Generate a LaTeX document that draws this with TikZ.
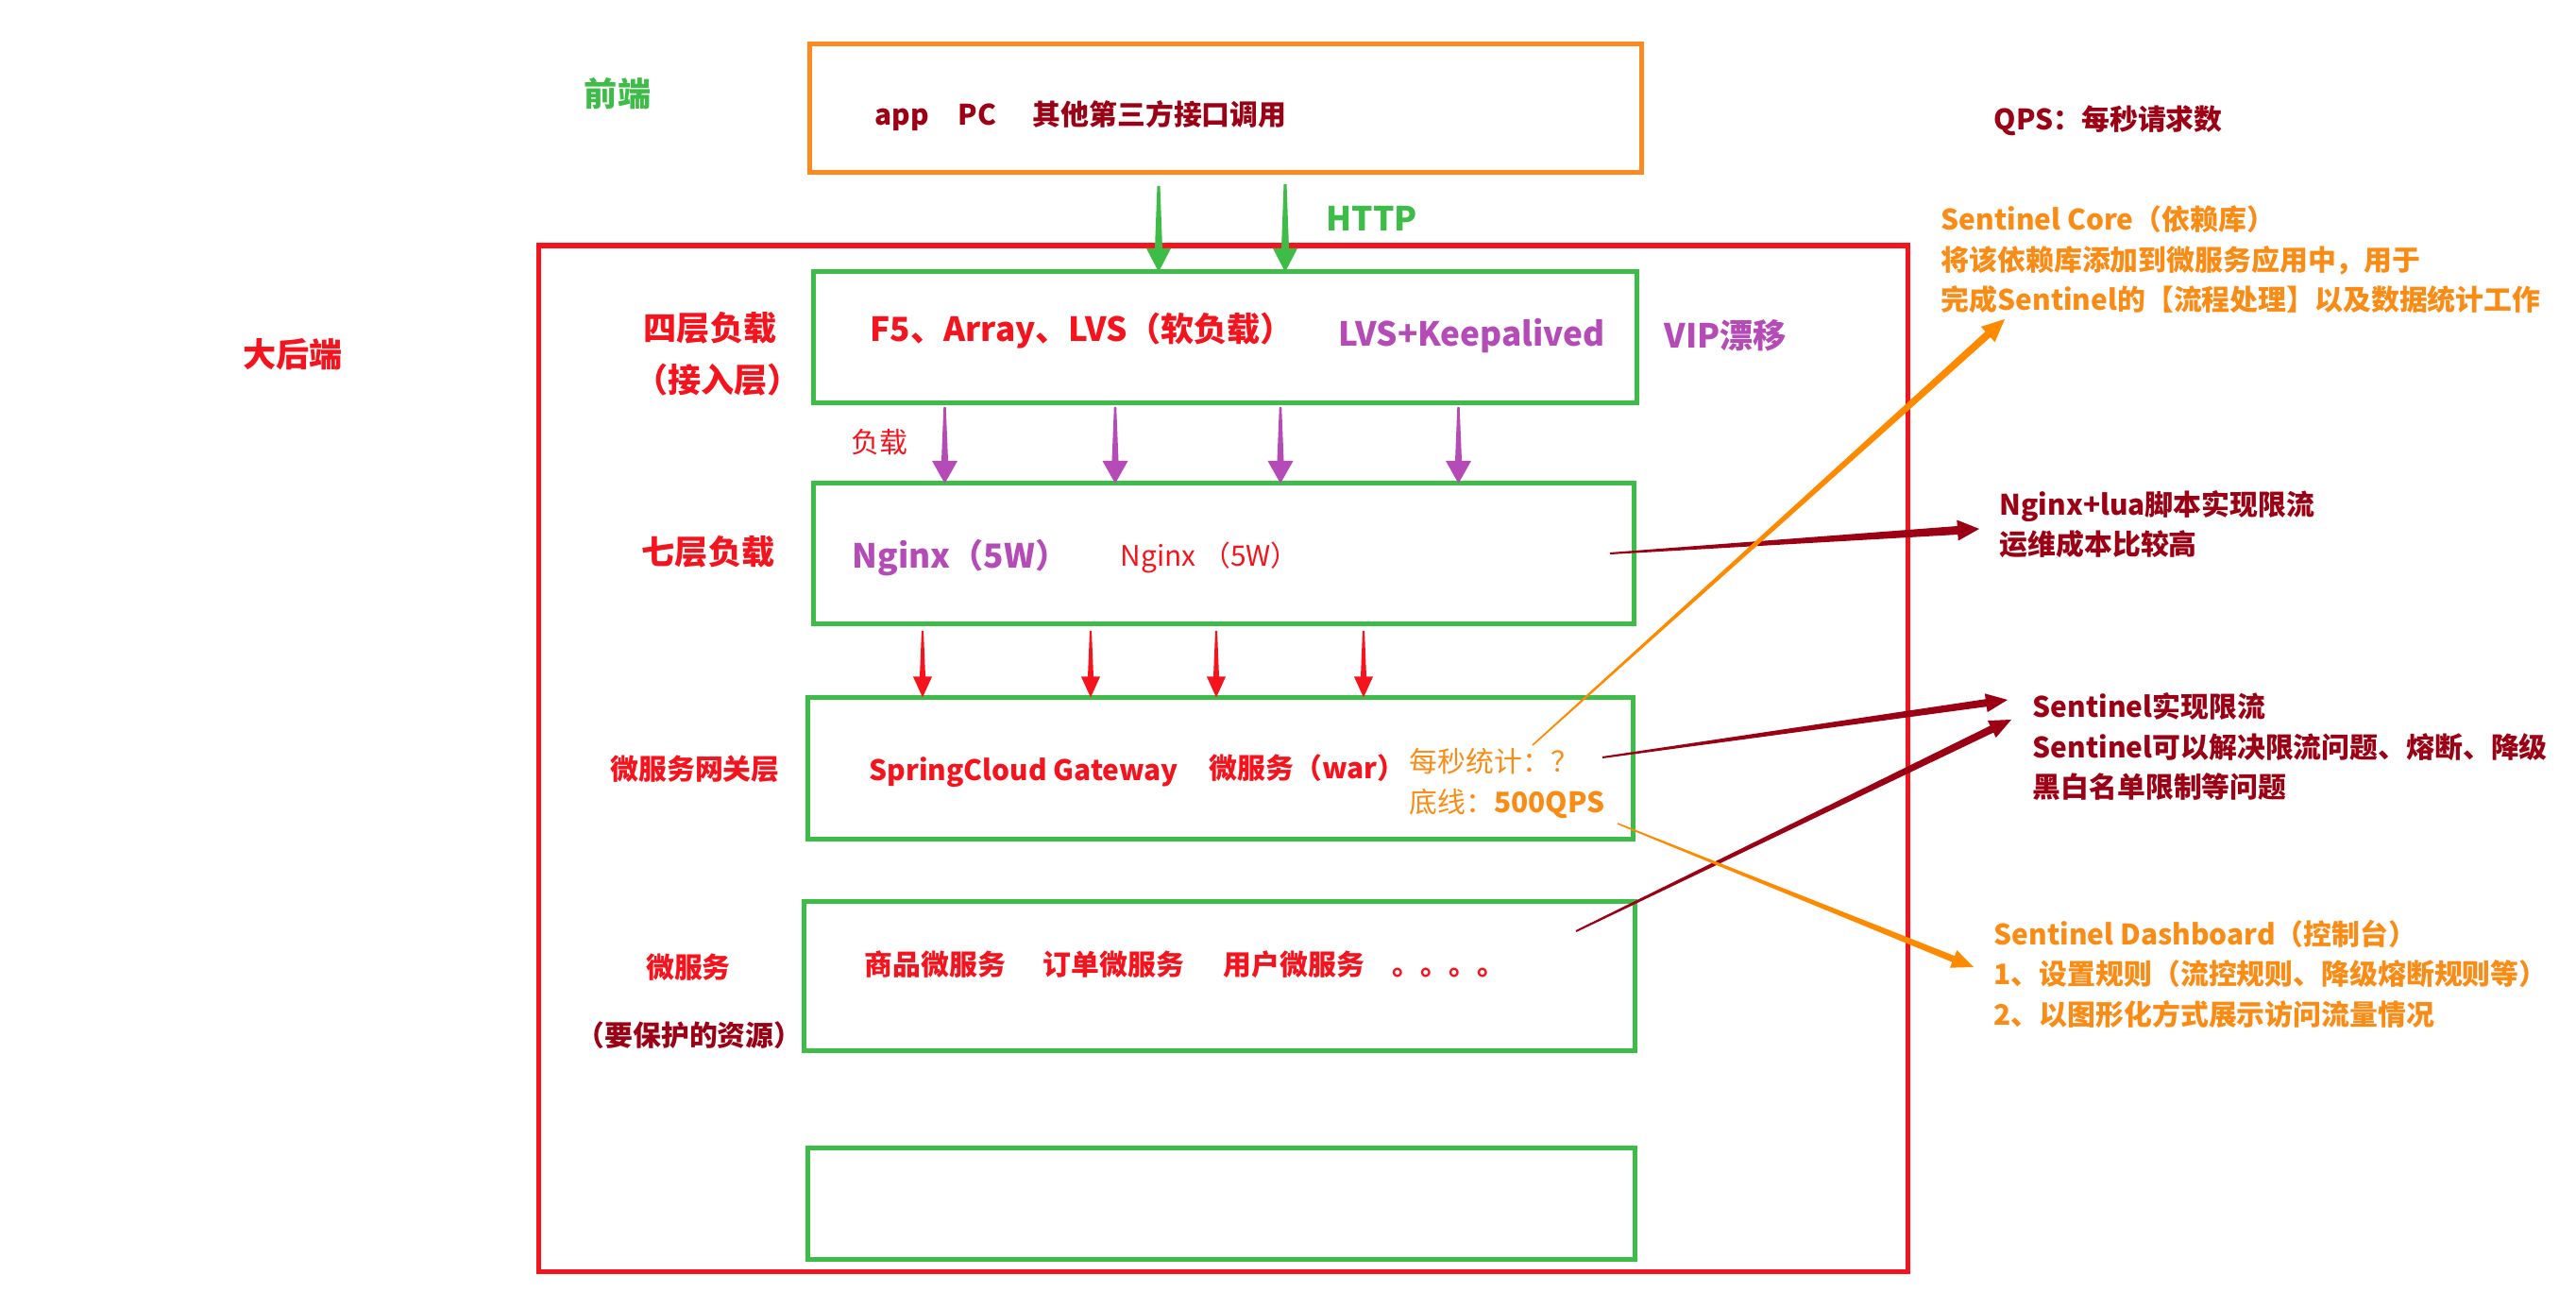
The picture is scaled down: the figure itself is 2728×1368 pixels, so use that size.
\documentclass[tikz,border=0pt]{standalone}
\usepackage{fontspec}
\setmainfont{Noto Sans CJK SC}
\usetikzlibrary{calc}
\definecolor{cred}{HTML}{F5141E}
\definecolor{cgreen}{HTML}{3DBD48}
\definecolor{corange}{HTML}{FD8A21}
\definecolor{ctorange}{HTML}{FA8C16}
\definecolor{carrow}{HTML}{FF8A00}
\definecolor{cpurple}{HTML}{B44BB7}
\definecolor{cdark}{HTML}{9B0014}
% tapered arrow: #1 colour, #2 start, #3 tip, #4 half start width, #5 half shaft width at head, #6 head length, #7 half head width
\newcommand{\taperarrow}[7]{%
  \coordinate (tpC) at ($(#3)!#6!(#2)$);
  \fill[#1] ($(#2)!#4!90:(#3)$) -- ($(tpC)!#5!-90:(#2)$) -- ($(tpC)!#7!-90:(#2)$) -- (#3)
     -- ($(tpC)!#7!90:(#2)$) -- ($(tpC)!#5!90:(#2)$) -- ($(#2)!#4!-90:(#3)$) -- cycle;
}
\begin{document}
\begin{tikzpicture}[x=0.1mm,y=-0.1mm,
  lbl/.style={inner sep=0pt, text height=7.5pt, text depth=1pt, font=\bfseries\fontsize{8.5}{10}\selectfont},
  big/.style={inner sep=0pt, text height=8.8pt, text depth=1.2pt, font=\bfseries\fontsize{10}{12}\selectfont},
  reg/.style={inner sep=0pt, text height=7.5pt, text depth=1pt, font=\fontsize{8.5}{10}\selectfont},
  gbox/.style={draw=cgreen, line width=0.5mm, inner sep=0pt, outer sep=0pt},
  obox/.style={draw=corange, line width=0.5mm, inner sep=0pt, outer sep=0pt},
  rbox/.style={draw=cred, line width=0.55mm, inner sep=0pt, outer sep=0pt}]
\fill[white] (0,0) rectangle (2728,1368);
\useasboundingbox (0,0) rectangle (2728,1368);

% boxes
\node[rbox, minimum width=145.0mm, minimum height=108.66mm] (back) at (1295.6,803.3) {};
\node[obox, minimum width=88.1mm, minimum height=13.6mm] (front) at (1297.5,115) {};
\node[gbox, minimum width=87.2mm, minimum height=13.9mm] (b1) at (1297,357.5) {};
\node[gbox, minimum width=86.9mm, minimum height=14.9mm] (b2) at (1295.5,586.5) {};
\node[gbox, minimum width=87.4mm, minimum height=15.05mm] (b3) at (1292,813.75) {};
\node[gbox, minimum width=88.0mm, minimum height=15.8mm] (b4) at (1291,1034) {};
\node[gbox, minimum width=87.6mm, minimum height=11.8mm] (b5) at (1293,1274) {};

% texts
\node[big, text=cgreen] (qd) at (654,99) {前端};
\node[lbl, text=cdark, anchor=west] (tapp) at (926,121) {app};
\node[lbl, text=cdark, anchor=west] (tpc) at (1014,121) {PC};
\node[lbl, text=cdark, anchor=west] (tother) at (1093,121) {其他第三方接口调用};
\node[lbl, text=cdark, anchor=west] (qps) at (2111,126) {QPS：每秒请求数};
\node[big, text=cgreen, anchor=west] (http) at (1404,231) {HTTP};
\node[big, text=cred] (dhd) at (310,375) {大后端};
\node[big, text=cred] (l4a) at (752,347) {四层负载};
\node[big, text=cred] (l4b) at (760,402) {（接入层）};
\node[big, text=cred, anchor=west] (f5) at (921,348) {F5、Array、LVS（软负载）};
\node[big, text=cpurple, anchor=west] (lvs) at (1417,353) {LVS+Keepalived};
\node[big, text=cpurple, anchor=west] (vip) at (1762,355) {VIP漂移};
\node[reg, text=cred] (fz) at (931,468) {负载};
\node[big, text=cred] (l7) at (750,584) {七层负载};
\node[big, text=cpurple, anchor=west] (ng1) at (902,588) {Nginx（5W）};
\node[reg, text=cred, anchor=west] (ng2) at (1186,588) {Nginx （5W）};
\node[lbl, text=cdark, anchor=west] (lua1) at (2117,534) {Nginx+lua脚本实现限流};
\node[lbl, text=cdark, anchor=west] (lua2) at (2117,576) {运维成本比较高};
\node[lbl, text=ctorange, anchor=west] (core1) at (2055,232) {Sentinel Core（依赖库）};
\node[lbl, text=ctorange, anchor=west] (core2) at (2055,275) {将该依赖库添加到微服务应用中，用于};
\node[lbl, text=ctorange, anchor=west] (core3) at (2055,317) {完成Sentinel的【流程处理】以及数据统计工作};
\node[lbl, text=cred] (gwl) at (736,814) {微服务网关层};
\node[lbl, text=cred, anchor=west] (scg) at (920,815) {SpringCloud Gateway};
\node[lbl, text=cred, anchor=west] (war) at (1280,813) {微服务（war）};
\node[reg, text=ctorange, anchor=west] (tj) at (1492,806) {每秒统计：？};
\node[reg, text=ctorange, anchor=west] (dx) at (1492,849) {底线：\textbf{500QPS}};
\node[lbl, text=cred] (wfw) at (729,1024) {微服务};
\node[lbl, text=cdark] (zy) at (730,1096) {（要保护的资源）};
\node[lbl, text=cred, anchor=west] (sp) at (915,1021) {商品微服务};
\node[lbl, text=cred, anchor=west] (dd) at (1104,1021) {订单微服务};
\node[lbl, text=cred, anchor=west] (yh) at (1295,1021) {用户微服务};
\node[lbl, text=cred, anchor=west] (dots) at (1474,1021) {。。。。};
\node[lbl, text=cdark, anchor=west] (sx1) at (2152,748) {Sentinel实现限流};
\node[lbl, text=cdark, anchor=west] (sx2) at (2152,791) {Sentinel可以解决限流问题、熔断、降级};
\node[lbl, text=cdark, anchor=west] (sx3) at (2152,833) {黑白名单限制等问题};
\node[lbl, text=ctorange, anchor=west] (db1) at (2111,989) {Sentinel Dashboard（控制台）};
\node[lbl, text=ctorange, anchor=west] (db2) at (2111,1031) {1、设置规则（流控规则、降级熔断规则等）};
\node[lbl, text=ctorange, anchor=west] (db3) at (2111,1074) {2、以图形化方式展示访问流量情况};

% vertical arrows
\coordinate (g1s) at (1227,197); \coordinate (g1e) at (g1s |- b1.north);
\coordinate (g2s) at (1361,195); \coordinate (g2e) at (g2s |- b1.north);
\taperarrow{cgreen}{g1s}{g1e}{0.15mm}{0.4mm}{2.5mm}{1.3mm}
\taperarrow{cgreen}{g2s}{g2e}{0.15mm}{0.4mm}{2.5mm}{1.3mm}
\foreach \i/\x in {1/1000.5,2/1181,3/1356,4/1544.5}{
  \coordinate (p\i s) at (\x,431); \coordinate (p\i e) at (p\i s |- b2.north);
  \taperarrow{cpurple}{p\i s}{p\i e}{0.12mm}{0.35mm}{2.4mm}{1.35mm}
}
\foreach \i/\x in {1/977,2/1155,3/1288,4/1444}{
  \coordinate (r\i s) at (\x,668); \coordinate (r\i e) at (r\i s |- b3.north);
  \taperarrow{cred}{r\i s}{r\i e}{0.1mm}{0.3mm}{2.2mm}{1.0mm}
}

% side arrows
\coordinate (nls) at (1705,586); \coordinate (nle) at (2096,560);
\taperarrow{cdark}{nls}{nle}{0.1mm}{0.45mm}{2.3mm}{1.1mm}
\coordinate (ocs) at (1623,789); \coordinate (oce) at (2123,338);
\taperarrow{carrow}{ocs}{oce}{0.08mm}{0.4mm}{2.4mm}{1.1mm}
\coordinate (d1s) at (1697,802); \coordinate (d1e) at (2126,741);
\taperarrow{cdark}{d1s}{d1e}{0.1mm}{0.4mm}{2.3mm}{1.0mm}
\coordinate (d2s) at (1669,986); \coordinate (d2e) at (2130,762);
\taperarrow{cdark}{d2s}{d2e}{0.1mm}{0.4mm}{2.3mm}{1.0mm}
\coordinate (ods) at (1713,872); \coordinate (ode) at (2090,1024);
\taperarrow{carrow}{ods}{ode}{0.08mm}{0.35mm}{2.3mm}{1.0mm}
\end{tikzpicture}
\end{document}
